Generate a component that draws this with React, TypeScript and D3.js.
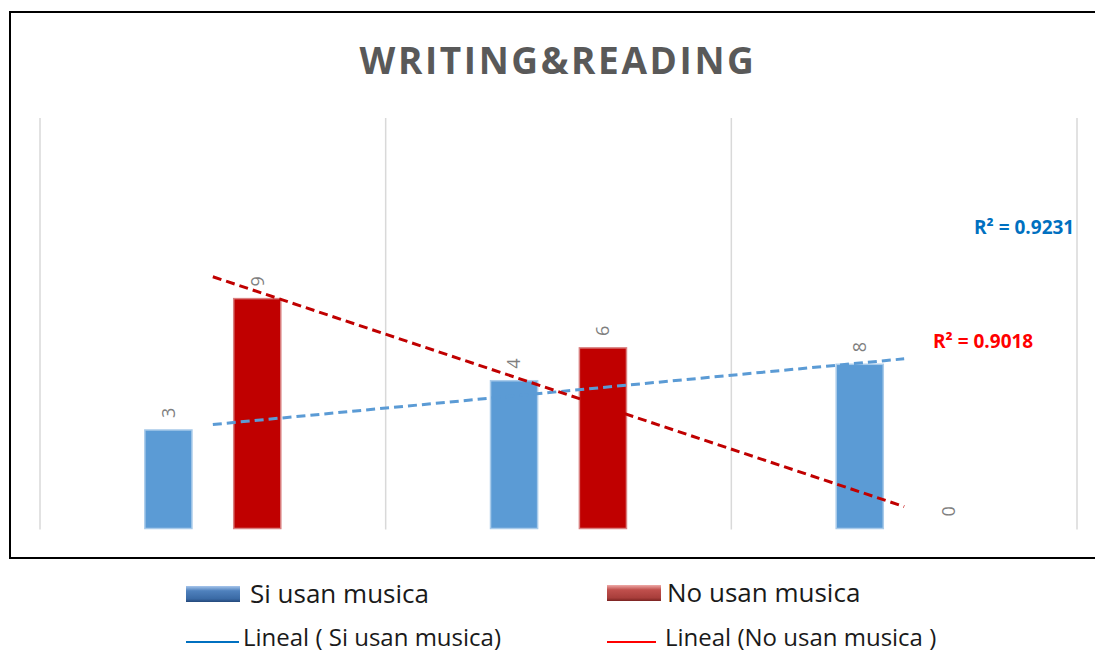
import * as d3 from "d3";

// categories on the x axis (unlabelled in the original)
const categories = ["1", "2", "3"];
const seriesNames = ["Si usan musica", "No usan musica"];

// bar values
const siValues = [6, 9, 10];
const noValues = [14, 11, 0];

// data labels as printed on the chart
const siLabels = ["3", "4", "8"];
const noLabels = ["9", "6", "0"];

const W = 1095;
const H = 653;
const plot = { left: 40, right: 1077, top: 118, bottom: 528.5 };

const BLUE = "#5b9bd5";
const RED = "#c00000";

function fit(values: number[]) {
  const xs = values.map((_, i) => i + 1);
  const mx = d3.mean(xs) as number;
  const my = d3.mean(values) as number;
  let sxy = 0;
  let sxx = 0;
  xs.forEach((x, i) => {
    sxy += (x - mx) * (values[i] - my);
    sxx += (x - mx) * (x - mx);
  });
  const slope = sxy / sxx;
  const intercept = my - slope * mx;
  const ssTot = d3.sum(values, (v) => (v - my) ** 2);
  const ssRes = d3.sum(values, (v, i) => (v - (intercept + slope * xs[i])) ** 2);
  return { slope, intercept, r2: 1 - ssRes / ssTot };
}

export default function App() {
  const x = d3.scaleBand<string>().domain(categories).range([plot.left, plot.right]);
  const inner = d3
    .scaleBand<string>()
    .domain(seriesNames)
    .range([0, x.bandwidth()])
    .paddingInner(0.47)
    .paddingOuter(1.18);
  const y = d3.scaleLinear().domain([0, 25]).range([plot.bottom, plot.top]);

  // trendline x: category index -> band centre
  const xi = d3
    .scaleLinear()
    .domain([1, categories.length])
    .range([
      (x(categories[0]) as number) + x.bandwidth() / 2,
      (x(categories[categories.length - 1]) as number) + x.bandwidth() / 2,
    ]);

  const series = [
    { name: seriesNames[0], values: siValues, labels: siLabels, color: BLUE, edge: "#a9cbea" },
    { name: seriesNames[1], values: noValues, labels: noLabels, color: RED, edge: "#d98080" },
  ];

  const siFit = fit(siValues);
  const noFit = fit(noValues);
  const trend = (f: ReturnType<typeof fit>) =>
    d3
      .line<number>()
      .x((d) => xi(d))
      .y((d) => y(f.intercept + f.slope * d))([1, categories.length]) as string;

  const gridXs = [...categories.map((c) => x(c) as number), plot.right];

  return (
    <svg
      width={W}
      height={H}
      style={{ position: "absolute", left: 0, top: 0, background: "#fff" }}
      fontFamily="'Open Sans', sans-serif"
    >
      <defs>
        <linearGradient id="gBlue" x1="0" y1="0" x2="0" y2="1">
          <stop offset="0" stopColor="#a7c6ec" />
          <stop offset="0.3" stopColor="#4f81bd" />
          <stop offset="0.8" stopColor="#3a6aa5" />
          <stop offset="1" stopColor="#24487a" />
        </linearGradient>
        <linearGradient id="gRed" x1="0" y1="0" x2="0" y2="1">
          <stop offset="0" stopColor="#efaaa8" />
          <stop offset="0.3" stopColor="#c0504d" />
          <stop offset="0.8" stopColor="#a83e3b" />
          <stop offset="1" stopColor="#7a2321" />
        </linearGradient>
      </defs>
      <rect x={0} y={0} width={W} height={H} fill="#fff" />
      <rect x={10} y={12} width={1100} height={546} fill="none" stroke="#000" strokeWidth={2} />

      <text
        x={558}
        y={74}
        textAnchor="middle"
        fontSize={37}
        fontWeight="bold"
        fill="#595959"
        letterSpacing={2.6}
      >
        WRITING&amp;READING
      </text>

      {gridXs.map((gx, i) => (
        <line key={i} x1={gx} x2={gx} y1={plot.top} y2={plot.bottom + 1} stroke="#d9d9d9" strokeWidth={1.5} />
      ))}

      {series.map((s) =>
        categories.map((c, i) => {
          const bx = (x(c) as number) + (inner(s.name) as number);
          const top = y(s.values[i]);
          const cx = bx + inner.bandwidth() / 2;
          return (
            <g key={s.name + c}>
              {s.values[i] > 0 && (
                <rect
                  x={bx}
                  y={top}
                  width={inner.bandwidth()}
                  height={plot.bottom - top}
                  fill={s.color}
                  stroke={s.edge}
                  strokeWidth={1.5}
                />
              )}
              <text
                transform={`translate(${cx},${top - 12}) rotate(-90)`}
                dy="0.35em"
                fontSize={18}
                fill="#7f7f7f"
              >
                {s.labels[i]}
              </text>
            </g>
          );
        })
      )}

      <path d={trend(siFit)} fill="none" stroke={BLUE} strokeWidth={3} strokeDasharray="9 5" />
      <path d={trend(noFit)} fill="none" stroke={RED} strokeWidth={3} strokeDasharray="9 5" />

      <text x={974} y={234} fontSize={19} fontWeight="bold" fill="#0070c0">
        R² = {siFit.r2.toFixed(4)}
      </text>
      <text x={933} y={348} fontSize={19} fontWeight="bold" fill="#ff0000">
        R² = {noFit.r2.toFixed(4)}
      </text>

      {/* legend */}
      <rect x={186} y={586} width={54} height={16} fill="url(#gBlue)" />
      <text x={250} y={603} fontSize={26} fill="#1a1a1a">
        {seriesNames[0]}
      </text>
      <rect x={607} y={585} width={54} height={16} fill="url(#gRed)" />
      <text x={667} y={602} fontSize={26} fill="#1a1a1a">
        {seriesNames[1]}
      </text>

      <line x1={186} x2={239} y1={642} y2={642} stroke="#0070c0" strokeWidth={2} />
      <text x={243} y={646} fontSize={24} fill="#1a1a1a">
        Lineal ( {seriesNames[0]})
      </text>
      <line x1={607} x2={656} y1={642} y2={642} stroke="#ff0000" strokeWidth={2} />
      <text x={665} y={646} fontSize={24} fill="#1a1a1a">
        Lineal ({seriesNames[1]} )
      </text>
    </svg>
  );
}
